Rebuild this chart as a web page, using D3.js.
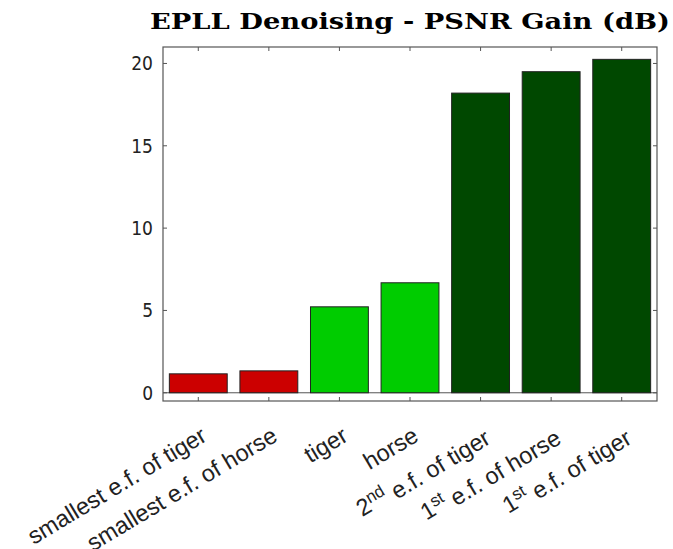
<!DOCTYPE html>
<html>
<head>
<meta charset="utf-8">
<script src="https://cdn.jsdelivr.net/npm/d3@7"></script>
<style>
  body { margin: 0; background: #fff; }
  svg { display: block; }
</style>
</head>
<body>
<svg id="chart" width="673" height="549"></svg>
<script>
// data
const categories = ["s_tiger", "s_horse", "tiger", "horse", "ef2_tiger", "ef1_horse", "ef1_tiger"];
const labelMain = ["smallest e.f. of tiger", "smallest e.f. of horse", "tiger", "horse", " e.f. of tiger", " e.f. of horse", " e.f. of tiger"];
const labelPre = ["", "", "", "", "2", "1", "1"];
const labelSup = ["", "", "", "", "nd", "st", "st"];
const gains = [1.15, 1.33, 5.22, 6.68, 18.2, 19.5, 20.25];
const groups = ["small", "small", "full", "full", "top", "top", "top"];
const yTicks = [0, 5, 10, 15, 20];

const colors = { small: "#cc0000", full: "#00cc00", top: "#004800" };

let svg = d3.select("#chart");
let plotLeft = 163, plotRight = 657, plotTop = 47, plotBottom = 401;
let axisColor = "#555";

let x = d3.scaleBand()
  .domain(categories)
  .range([plotLeft, plotRight])
  .paddingInner(0.18)
  .paddingOuter(0.09);

let y = d3.scaleLinear()
  .domain([-0.5, 21])
  .range([plotBottom, plotTop]);

// title
svg.append("text")
  .attr("x", 410)
  .attr("y", 29)
  .attr("text-anchor", "middle")
  .attr("textLength", 520)
  .attr("lengthAdjust", "spacingAndGlyphs")
  .style("font-family", "DejaVu Serif")
  .style("font-weight", "bold")
  .style("font-size", "22px")
  .text("EPLL Denoising - PSNR Gain (dB)");

// zero line
svg.append("line")
  .attr("x1", plotLeft).attr("x2", plotRight)
  .attr("y1", y(0)).attr("y2", y(0))
  .attr("stroke", axisColor)
  .attr("stroke-width", 1);

// bars
svg.selectAll(".bar")
  .data(gains)
  .enter()
  .append("rect")
  .attr("class", "bar")
  .attr("x", (d, i) => x(categories[i]))
  .attr("width", x.bandwidth())
  .attr("y", d => y(d))
  .attr("height", d => y(0) - y(d))
  .attr("fill", (d, i) => colors[groups[i]])
  .attr("stroke", "#222")
  .attr("stroke-width", 1);

// box
svg.append("rect")
  .attr("x", plotLeft).attr("y", plotTop)
  .attr("width", plotRight - plotLeft).attr("height", plotBottom - plotTop)
  .attr("fill", "none")
  .attr("stroke", axisColor)
  .attr("stroke-width", 1.2);

// y ticks, inside on both sides
let tickLen = 4;
yTicks.forEach(t => {
  svg.append("line")
    .attr("x1", plotLeft).attr("x2", plotLeft + tickLen)
    .attr("y1", y(t)).attr("y2", y(t))
    .attr("stroke", axisColor);
  svg.append("line")
    .attr("x1", plotRight).attr("x2", plotRight - tickLen)
    .attr("y1", y(t)).attr("y2", y(t))
    .attr("stroke", axisColor);
  svg.append("text")
    .attr("x", plotLeft - 10)
    .attr("y", y(t))
    .attr("dy", "0.36em")
    .attr("text-anchor", "end")
    .style("font-family", "'DejaVu Sans Condensed', 'DejaVu Sans'")
    .style("font-stretch", "condensed")
    .style("font-size", "19px")
    .style("fill", "#222")
    .text(t);
});

// x ticks, inside top and bottom
categories.forEach(c => {
  let cx = x(c) + x.bandwidth() / 2;
  svg.append("line")
    .attr("x1", cx).attr("x2", cx)
    .attr("y1", plotBottom).attr("y2", plotBottom - tickLen)
    .attr("stroke", axisColor);
  svg.append("line")
    .attr("x1", cx).attr("x2", cx)
    .attr("y1", plotTop).attr("y2", plotTop + tickLen)
    .attr("stroke", axisColor);
});

// rotated category labels, ending just right of each tick
categories.forEach((c, i) => {
  let ax = x(c) + x.bandwidth() / 2 + 10;
  let t = svg.append("text")
    .attr("transform", "translate(" + ax + "," + 440 + ") rotate(-31)")
    .attr("text-anchor", "end")
    .style("font-family", "Liberation Sans")
    .style("font-size", "23.5px")
    .style("fill", "#222");
  if (labelPre[i]) {
    t.append("tspan").text(labelPre[i]);
    t.append("tspan")
      .attr("dy", "-0.45em")
      .style("font-size", "17px")
      .text(labelSup[i]);
    t.append("tspan")
      .attr("dy", "0.45em")
      .text(labelMain[i]);
  } else {
    t.text(labelMain[i]);
  }
});
</script>
</body>
</html>
